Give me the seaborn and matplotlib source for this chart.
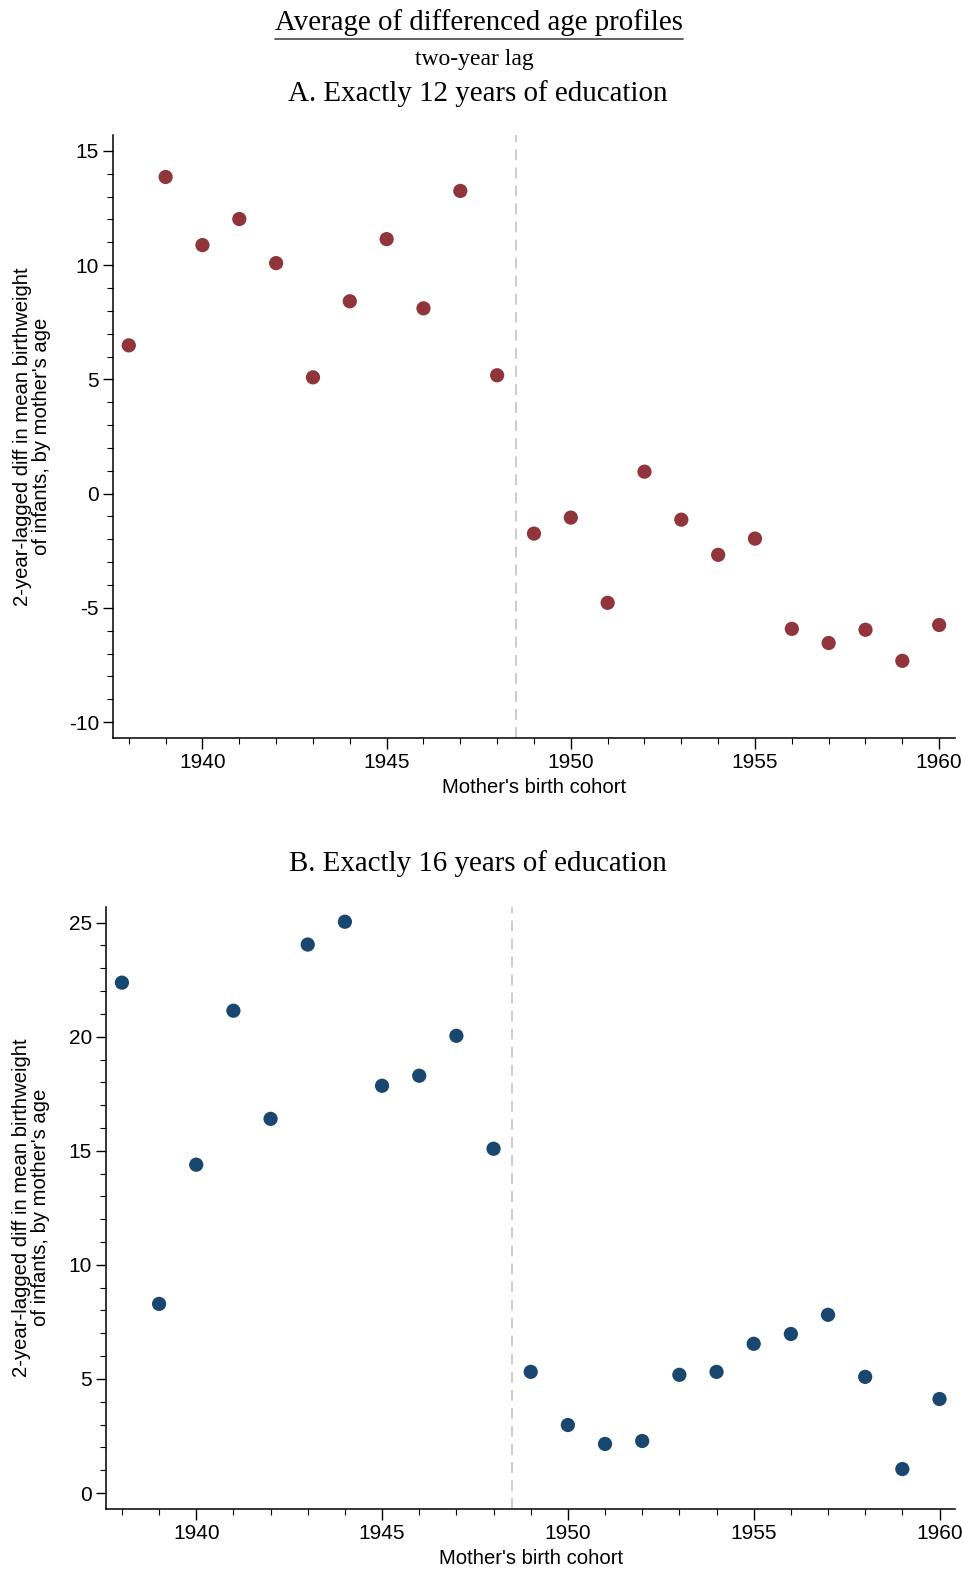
import matplotlib
matplotlib.use("Agg")
import matplotlib.pyplot as plt
import numpy as np
import pandas as pd
import seaborn as sns
from matplotlib.lines import Line2D
from matplotlib.ticker import MultipleLocator

# mother's birth cohort
COHORTS = list(range(1938, 1961))

# panel A: exactly 12 years of education
DIFF_12 = [6.49, 13.86, 10.88, 12.02, 10.09, 5.09, 8.42, 11.14, 8.11, 13.25, 5.18,
           -1.75, -1.05, -4.78, 0.96, -1.14, -2.68, -1.97, -5.92, -6.54, -5.96, -7.32, -5.75]

# panel B: exactly 16 years of education
DIFF_16 = [22.37, 8.29, 14.39, 21.14, 16.40, 24.04, 25.04, 17.85, 18.29, 20.04, 15.09,
           5.31, 2.98, 2.15, 2.28, 5.18, 5.31, 6.54, 6.97, 7.81, 5.09, 1.05, 4.12]

Y_TICKS_A = [-10, -5, 0, 5, 10, 15]
Y_TICKS_B = [0, 5, 10, 15, 20, 25]
X_TICKS = [1940, 1945, 1950, 1955, 1960]
BREAK_YEAR = 1948.5

COLOR_A = "#90353b"
COLOR_B = "#1a476f"
SERIF = "Liberation Serif"
SANS = ["Liberation Sans", "DejaVu Sans"]

YLABEL = "2-year-lagged diff in mean birthweight\nof infants, by mother's age"
XLABEL = "Mother's birth cohort"


def draw_panel(ax, values, color, yticks, ylim, ylabel_x):
    df = pd.DataFrame({"cohort": COHORTS, "diff": values})
    sns.scatterplot(data=df, x="cohort", y="diff", color=color, s=105,
                    edgecolor="none", ax=ax, zorder=3)
    ax.axvline(BREAK_YEAR, color="#c8c8c8", lw=1.3, ls=(0, (6, 4)), zorder=1)
    ax.set_xlim(1937.57, 1960.43)
    ax.set_ylim(*ylim)
    ax.set_xticks(X_TICKS)
    ax.set_yticks(yticks)
    ax.xaxis.set_minor_locator(MultipleLocator(1))
    ax.yaxis.set_minor_locator(MultipleLocator(1))
    ax.tick_params(axis="both", which="major", direction="out", labelsize=15,
                   width=1.0, color="black", labelcolor="black")
    ax.tick_params(axis="x", which="major", length=8, pad=3)
    ax.tick_params(axis="y", which="major", length=7, pad=3)
    ax.tick_params(axis="both", which="minor", direction="out", length=4, width=0.8,
                   color="black")
    for lab in ax.get_xticklabels() + ax.get_yticklabels():
        lab.set_family(SANS)
    sns.despine(ax=ax)
    for side in ["left", "bottom"]:
        ax.spines[side].set_linewidth(1.1)
        ax.spines[side].set_color("black")
    ax.set_xlabel(XLABEL, fontsize=14.6, family=SANS, labelpad=4, color="black")
    ax.set_ylabel(YLABEL, fontsize=14.6, family=SANS, va="center", linespacing=1.0,
                  color="black")
    ax.yaxis.set_label_coords(ylabel_x, 0.5)
    ax.grid(False)


def main():
    sns.set_style("ticks")
    plt.rcParams["font.family"] = SANS
    plt.rcParams["axes.unicode_minus"] = False
    plt.rcParams["text.color"] = "black"

    fig = plt.figure(figsize=(9.63, 15.73), dpi=100, facecolor="white")
    ax_a = fig.add_axes([0.1173, 0.5308, 0.8744, 0.3834])
    ax_b = fig.add_axes([0.1100, 0.0407, 0.8822, 0.3829])

    draw_panel(ax_a, DIFF_12, COLOR_A, Y_TICKS_A, (-10.7, 15.7), -0.096)
    draw_panel(ax_b, DIFF_16, COLOR_B, Y_TICKS_B, (-0.7, 25.7), -0.088)

    H = 1573.0
    title = fig.text(0.497, 1 - 23 / H, "Average of differenced age profiles",
                     ha="center", va="center", fontsize=20.8, family=SERIF, color="black")
    fig.text(0.493, 1 - 60 / H, "two-year lag", ha="center", va="center",
             fontsize=17, family=SERIF, color="black")
    fig.text(0.496, 1 - 94 / H, "A. Exactly 12 years of education",
             ha="center", va="center", fontsize=20.9, family=SERIF, color="black")
    fig.text(0.496, 1 - 864 / H, "B. Exactly 16 years of education",
             ha="center", va="center", fontsize=20.9, family=SERIF, color="black")

    fig.canvas.draw()
    bb = title.get_window_extent().transformed(fig.transFigure.inverted())
    y_line = 1 - 38.5 / H
    fig.add_artist(Line2D([bb.x0, bb.x1], [y_line, y_line], transform=fig.transFigure,
                          color="#555555", lw=1.3))

    fig.savefig("out.png", dpi=100, facecolor="white")
    plt.close(fig)


if __name__ == "__main__":
    main()
